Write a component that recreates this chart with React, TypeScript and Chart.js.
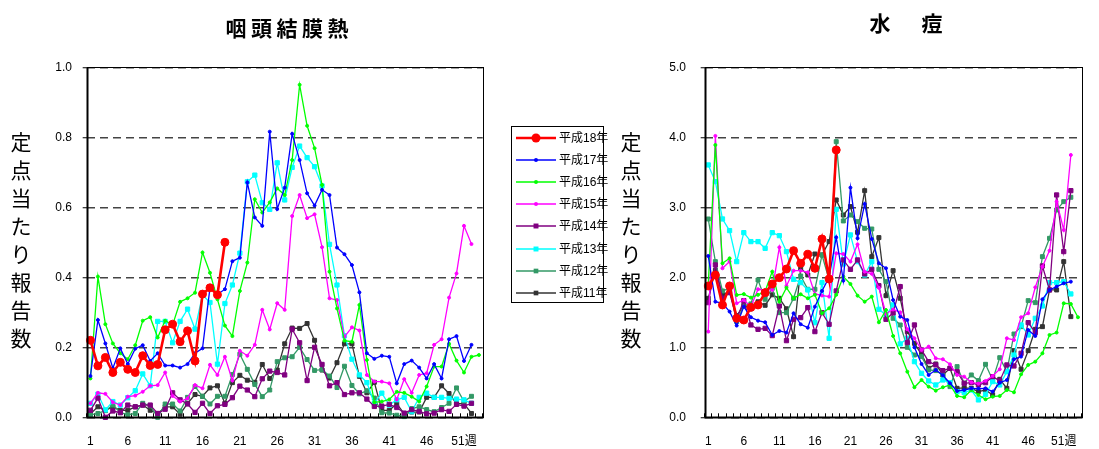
import React, { useEffect, useRef } from 'react';
import { Chart, registerables } from 'chart.js';

Chart.register(...registerables);

// ---------- categories / tick labels ----------
const weeks = Array.from({ length: 53 }, (_, i) => i + 1);
const weekTickLabels = ['1', '6', '11', '16', '21', '26', '31', '36', '41', '46', '51週'];
const xLabels = weeks.map((w) => ((w - 1) % 5 === 0 ? weekTickLabels[(w - 1) / 5] : ''));

const seriesNames = ['平成18年', '平成17年', '平成16年', '平成15年', '平成14年', '平成13年', '平成12年', '平成11年'];

// ---------- 咽頭結膜熱 ----------
const pcfH18 = [0.22, 0.147, 0.171, 0.128, 0.157, 0.137, 0.128, 0.176, 0.148, 0.151, 0.25, 0.266, 0.216, 0.247, 0.161, 0.352, 0.37, 0.35, 0.5];
const pcfH17 = [0.118, 0.278, 0.211, 0.14, 0.197, 0.152, 0.196, 0.206, 0.161, 0.183, 0.148, 0.148, 0.142, 0.152, 0.183, 0.197, 0.37, 0.351, 0.366, 0.446, 0.456, 0.671, 0.571, 0.547, 0.816, 0.595, 0.656, 0.81, 0.735, 0.64, 0.605, 0.65, 0.635, 0.485, 0.466, 0.435, 0.357, 0.183, 0.167, 0.176, 0.173, 0.097, 0.152, 0.162, 0.142, 0.111, 0.152, 0.111, 0.223, 0.232, 0.161, 0.207];
const pcfH16 = [0.111, 0.402, 0.266, 0.211, 0.183, 0.166, 0.206, 0.276, 0.286, 0.228, 0.276, 0.264, 0.33, 0.34, 0.356, 0.471, 0.413, 0.337, 0.262, 0.232, 0.361, 0.442, 0.623, 0.585, 0.614, 0.654, 0.635, 0.735, 0.95, 0.833, 0.769, 0.664, 0.416, 0.311, 0.219, 0.216, 0.321, 0.164, 0.043, 0.045, 0.051, 0.073, 0.07, 0.059, 0.045, 0.088, 0.145, 0.145, 0.21, 0.162, 0.128, 0.173, 0.178];
const pcfH15 = [0.04, 0.07, 0.067, 0.043, 0.035, 0.059, 0.062, 0.073, 0.09, 0.092, 0.128, 0.061, 0.045, 0.054, 0.092, 0.083, 0.15, 0.121, 0.173, 0.105, 0.19, 0.176, 0.207, 0.307, 0.251, 0.326, 0.307, 0.575, 0.635, 0.569, 0.58, 0.486, 0.34, 0.335, 0.23, 0.257, 0.248, 0.121, 0.102, 0.102, 0.097, 0.051, 0.109, 0.07, 0.121, 0.126, 0.207, 0.223, 0.342, 0.411, 0.547, 0.495];
const pcfH14 = [0.02, 0.055, 0.0, 0.018, 0.013, 0.035, 0.03, 0.035, 0.035, 0.011, 0.023, 0.07, 0.05, 0.038, 0.014, 0.04, 0.011, 0.033, 0.037, 0.056, 0.089, 0.078, 0.059, 0.11, 0.132, 0.128, 0.121, 0.252, 0.213, 0.105, 0.2, 0.151, 0.09, 0.099, 0.065, 0.07, 0.07, 0.052, 0.031, 0.032, 0.037, 0.028, 0.012, 0.022, 0.017, 0.01, 0.012, 0.022, 0.017, 0.037, 0.032, 0.04];
const pcfH13 = [0.04, 0.066, 0.021, 0.045, 0.035, 0.056, 0.076, 0.124, 0.09, 0.274, 0.274, 0.213, 0.274, 0.309, 0.252, 0.35, 0.328, 0.152, 0.325, 0.378, 0.469, 0.673, 0.692, 0.613, 0.594, 0.727, 0.621, 0.714, 0.775, 0.742, 0.716, 0.661, 0.494, 0.378, 0.233, 0.166, 0.121, 0.099, 0.04, 0.069, 0.035, 0.05, 0.057, 0.016, 0.057, 0.069, 0.057, 0.057, 0.054, 0.052, 0.05, 0.04];
const pcfH12 = [0.007, 0.011, 0.019, 0.035, 0.014, 0.007, 0.011, 0.04, 0.033, 0.0, 0.038, 0.038, 0.018, 0.057, 0.088, 0.06, 0.038, 0.06, 0.06, 0.122, 0.18, 0.137, 0.094, 0.059, 0.078, 0.159, 0.17, 0.173, 0.2, 0.165, 0.134, 0.136, 0.118, 0.085, 0.146, 0.091, 0.067, 0.076, 0.055, 0.013, 0.012, 0.006, 0.002, 0.025, 0.03, 0.022, 0.016, 0.028, 0.04, 0.084, 0.045, 0.06];
const pcfH11 = [0.01, 0.03, 0.02, 0.03, 0.02, 0.02, 0.03, 0.035, 0.02, 0.01, 0.03, 0.03, 0.009, 0.04, 0.065, 0.06, 0.084, 0.09, 0.04, 0.099, 0.12, 0.106, 0.1, 0.151, 0.111, 0.135, 0.21, 0.255, 0.254, 0.268, 0.22, 0.135, 0.112, 0.156, 0.21, 0.21, 0.117, 0.07, 0.1, 0.02, 0.02, 0.039, 0.01, 0.015, 0.015, 0.057, 0.057, 0.09, 0.068, 0.039, 0.039, 0.011];

// ---------- 水痘 ----------
const vzH18 = [1.876, 2.033, 1.605, 1.876, 1.414, 1.39, 1.571, 1.605, 1.781, 1.905, 1.995, 2.119, 2.381, 2.2, 2.329, 2.129, 2.548, 1.976, 3.819];
const vzH17 = [2.305, 1.652, 1.629, 1.51, 1.31, 1.581, 1.429, 1.381, 1.357, 1.176, 1.233, 1.21, 1.486, 1.329, 1.281, 1.581, 1.805, 2.0, 2.571, 1.952, 3.281, 2.557, 3.048, 2.548, 2.2, 2.129, 1.676, 1.438, 1.39, 1.0, 0.762, 0.605, 0.676, 0.6, 0.486, 0.376, 0.39, 0.414, 0.41, 0.414, 0.367, 0.495, 0.533, 0.829, 0.867, 1.248, 1.162, 1.686, 1.819, 1.867, 1.914, 1.938];
const vzH16 = [1.9, 3.89, 2.2, 2.271, 1.748, 1.76, 1.71, 1.75, 1.8, 2.081, 1.652, 1.852, 1.7, 1.757, 1.7, 1.75, 1.486, 1.557, 1.75, 2.01, 1.905, 1.738, 1.652, 1.724, 1.357, 1.533, 1.162, 0.914, 0.652, 0.429, 0.533, 0.438, 0.381, 0.429, 0.462, 0.305, 0.286, 0.39, 0.319, 0.257, 0.295, 0.305, 0.39, 0.357, 0.614, 0.748, 0.795, 0.914, 1.176, 1.21, 1.629, 1.619, 1.429];
const vzH15 = [1.224, 4.02, 2.129, 2.224, 1.629, 1.676, 1.581, 1.829, 1.819, 1.82, 2.429, 1.876, 2.095, 2.095, 2.071, 1.762, 1.74, 1.724, 2.343, 2.333, 2.224, 2.471, 2.081, 2.05, 1.85, 1.48, 1.54, 1.5, 1.257, 1.129, 0.962, 1.01, 0.843, 0.829, 0.757, 0.605, 0.581, 0.5, 0.48, 0.52, 0.59, 0.686, 1.129, 1.105, 1.429, 1.486, 1.857, 2.152, 2.381, 3.081, 2.676, 3.748];
const vzH14 = [1.638, 2.176, 1.7, 1.781, 1.4, 1.667, 1.319, 1.257, 1.271, 1.167, 1.59, 1.095, 1.4, 1.424, 1.567, 1.224, 1.495, 1.329, 1.805, 2.248, 2.114, 2.248, 2.048, 2.114, 1.88, 1.4, 1.49, 1.867, 1.067, 1.319, 0.962, 0.795, 0.748, 0.667, 0.7, 0.652, 0.486, 0.495, 0.462, 0.495, 0.581, 0.52, 0.748, 0.733, 0.914, 1.352, 1.21, 2.162, 1.819, 3.176, 2.367, 3.238];
const vzH13 = [3.605, 3.367, 2.833, 2.667, 2.224, 2.638, 2.51, 2.51, 2.414, 2.638, 2.595, 2.367, 1.971, 1.924, 1.819, 1.352, 1.924, 1.129, 2.971, 2.19, 2.605, 2.224, 2.033, 2.224, 1.543, 1.46, 1.605, 1.048, 1.129, 0.795, 0.629, 0.519, 0.462, 0.533, 0.495, 0.367, 0.352, 0.39, 0.248, 0.329, 0.51, 0.462, 0.652, 0.89, 1.319, 1.176, 1.414, 1.59, 1.924, 1.924, 1.938, 1.762];
const vzH12 = [2.833, 2.224, 1.805, 1.843, 1.367, 1.59, 1.62, 1.962, 1.686, 1.843, 1.495, 1.495, 1.7, 2.019, 1.829, 1.829, 2.319, 1.962, 3.938, 2.805, 2.89, 2.795, 2.7, 2.69, 2.114, 1.938, 1.414, 1.319, 1.0, 0.89, 0.867, 0.676, 0.667, 0.605, 0.438, 0.724, 0.486, 0.605, 0.524, 0.757, 0.533, 0.852, 0.652, 1.19, 1.295, 1.667, 1.638, 2.295, 2.557, 2.962, 3.081, 3.143];
const vzH11 = [1.7, 2.1, 1.75, 1.8, 1.45, 1.6, 1.55, 1.65, 1.6, 1.75, 1.7, 1.55, 1.152, 2.128, 2.033, 2.333, 2.319, 2.51, 3.105, 2.89, 3.01, 2.643, 3.238, 2.295, 2.567, 1.738, 2.095, 1.7, 1.224, 1.057, 0.9, 0.7, 0.762, 0.605, 0.7, 0.414, 0.42, 0.414, 0.367, 0.39, 0.319, 0.543, 0.414, 0.952, 0.686, 0.952, 1.257, 1.295, 1.819, 1.819, 2.224, 1.438];

const pcfSeries = [pcfH18, pcfH17, pcfH16, pcfH15, pcfH14, pcfH13, pcfH12, pcfH11];
const vzSeries = [vzH18, vzH17, vzH16, vzH15, vzH14, vzH13, vzH12, vzH11];

// ---------- styles ----------
const seriesColors = ['#FF0000', '#0000FF', '#00FF00', '#FF00FF', '#800080', '#00FFFF', '#339966', '#333333'];
const markerShapes = ['circle', 'circle', 'circle', 'circle', 'rect', 'rect', 'rect', 'rect'];
const markerRadius = [4.0, 1.5, 1.5, 1.5, 3.0, 3.0, 2.8, 2.8];
const lineWidths = [2.6, 1.3, 1.3, 1.3, 1.3, 1.3, 1.3, 1.3];

const TICK_FONT = '"Liberation Sans", Arial, "Noto Sans CJK JP", sans-serif';
const CJK_FONT = '"Noto Sans CJK JP", "Noto Sans CJK SC", sans-serif';

const framePlugin = {
  id: 'frame',
  afterDraw(chart: any) {
    const { ctx, chartArea: a } = chart;
    const l = Math.round(a.left) + 0.5;
    const t = Math.round(a.top) + 0.5;
    const r = Math.round(a.right) + 0.5;
    const b = Math.round(a.bottom) + 0.5;
    ctx.save();
    ctx.strokeStyle = '#000';
    ctx.lineWidth = 1;
    ctx.strokeRect(l, t, r - l, b - t);
    ctx.lineWidth = 2;
    ctx.beginPath();
    ctx.moveTo(l, t);
    ctx.lineTo(l, b);
    ctx.lineTo(r, b);
    ctx.stroke();
    ctx.restore();
  },
};

type PanelProps = {
  left: number;
  width: number;
  series: number[][];
  yMax: number;
  yStep: number;
  axisWidth: number;
  rightPad: number;
  yTickPad: number;
};

function Panel({ left, width, series, yMax, yStep, axisWidth, rightPad, yTickPad }: PanelProps) {
  const ref = useRef<HTMLCanvasElement | null>(null);
  useEffect(() => {
    if (!ref.current) return;
    const chart = new Chart(ref.current, {
      type: 'line',
      data: {
        labels: xLabels,
        datasets: series.map((d, i) => ({
          label: seriesNames[i],
          data: d,
          borderColor: seriesColors[i],
          backgroundColor: seriesColors[i],
          borderWidth: lineWidths[i],
          pointStyle: markerShapes[i] as any,
          pointRadius: markerRadius[i],
          pointBorderWidth: 1,
          pointBackgroundColor: seriesColors[i],
          pointBorderColor: seriesColors[i],
          tension: 0,
          fill: false,
          clip: 6,
        })),
      },
      options: {
        animation: false,
        responsive: false,
        maintainAspectRatio: false,
        devicePixelRatio: 1,
        layout: { padding: { top: 67.3, right: rightPad, left: 0, bottom: 0 } },
        plugins: {
          legend: { display: false },
          tooltip: { enabled: false },
          title: { display: false },
        },
        scales: {
          x: {
            type: 'category',
            offset: true,
            afterFit: (s: any) => {
              s.height = 31.7;
            },
            grid: {
              display: true,
              offset: true,
              drawOnChartArea: false,
              drawTicks: true,
              tickLength: -4,
              tickColor: '#000',
              tickWidth: 1,
              color: '#000',
            },
            border: { display: false },
            ticks: {
              autoSkip: false,
              maxRotation: 0,
              minRotation: 0,
              padding: 21,
              color: '#000',
              font: { family: TICK_FONT, size: 12 },
            },
          },
          y: {
            type: 'linear',
            min: 0,
            max: yMax,
            afterFit: (s: any) => {
              s.width = axisWidth;
            },
            grid: {
              color: '#444444',
              lineWidth: 1.5,
              drawTicks: true,
              tickLength: 4,
              tickColor: '#000',
              tickWidth: 1,
              tickBorderDash: [],
            },
            border: { display: false, dash: [8, 5] },
            ticks: {
              stepSize: yStep,
              padding: yTickPad,
              color: '#000',
              font: { family: TICK_FONT, size: 12 },
              callback: (v: any) => Number(v).toFixed(1),
            },
          },
        },
      } as any,
      plugins: [framePlugin],
    });
    return () => chart.destroy();
  }, []);
  return (
    <canvas
      ref={ref}
      width={width}
      height={449}
      style={{ position: 'absolute', left, top: 0, width, height: 449 }}
    />
  );
}

function YTitle({ cx }: { cx: number }) {
  return (
    <div
      style={{
        position: 'absolute',
        left: cx - 16,
        top: 127,
        width: 32,
        fontFamily: CJK_FONT,
        fontSize: 21,
        lineHeight: '28px',
        textAlign: 'center',
        color: '#000',
      }}
    >
      {'定点当たり報告数'.split('').map((ch, i) => (
        <div key={i}>{ch}</div>
      ))}
    </div>
  );
}

function Title({ text, cx, cy, spacing }: { text: string; cx: number; cy: number; spacing: number }) {
  return (
    <div
      style={{
        position: 'absolute',
        left: cx - 150,
        top: cy - 15,
        width: 300,
        height: 30,
        lineHeight: '30px',
        textAlign: 'center',
        fontFamily: CJK_FONT,
        fontWeight: 'bold',
        fontSize: 21,
        letterSpacing: spacing,
        paddingLeft: spacing,
        boxSizing: 'border-box',
        color: '#000',
        whiteSpace: 'pre',
      }}
    >
      {text}
    </div>
  );
}

function LegendMarker({ i }: { i: number }) {
  const c = seriesColors[i];
  const r = markerRadius[i] + 0.5;
  return (
    <svg width={40} height={22} style={{ position: 'absolute', left: 4, top: 0 }}>
      <line x1={0} y1={11} x2={40} y2={11} stroke={c} strokeWidth={lineWidths[i]} />
      {markerShapes[i] === 'circle' ? (
        <circle cx={20} cy={11} r={r} fill={c} />
      ) : (
        <rect x={20 - r * 0.707} y={11 - r * 0.707} width={r * 1.414} height={r * 1.414} fill={c} />
      )}
    </svg>
  );
}

function Legend() {
  return (
    <div
      style={{
        position: 'absolute',
        left: 511,
        top: 126,
        width: 93,
        height: 177,
        border: '1px solid #000',
        background: '#fff',
        boxSizing: 'border-box',
      }}
    >
      {seriesNames.map((name, i) => (
        <div key={i} style={{ position: 'absolute', left: 0, top: i * 22.1, width: 93, height: 22 }}>
          <LegendMarker i={i} />
          <div
            style={{
              position: 'absolute',
              left: 47,
              top: 0,
              lineHeight: '22px',
              fontSize: 12,
              fontFamily: TICK_FONT,
              color: '#000',
              whiteSpace: 'nowrap',
            }}
          >
            {name}
          </div>
        </div>
      ))}
    </div>
  );
}

export default function App() {
  return (
    <div
      style={{
        position: 'absolute',
        left: 0,
        top: 0,
        width: 1099,
        height: 449,
        background: '#fff',
        overflow: 'hidden',
      }}
    >
      <Panel left={0} width={500} series={pcfSeries} yMax={1} yStep={0.2} axisWidth={86.7} rightPad={6.7} yTickPad={10.7} />
      <Panel left={600} width={499} series={vzSeries} yMax={5} yStep={1} axisWidth={104.7} rightPad={2.7} yTickPad={14.7} />
      <Title text="咽頭結膜熱" cx={287} cy={27} spacing={4.5} />
      <Title text="水　痘" cx={906} cy={22} spacing={5} />
      <YTitle cx={21} />
      <YTitle cx={631} />
      <Legend />
    </div>
  );
}
